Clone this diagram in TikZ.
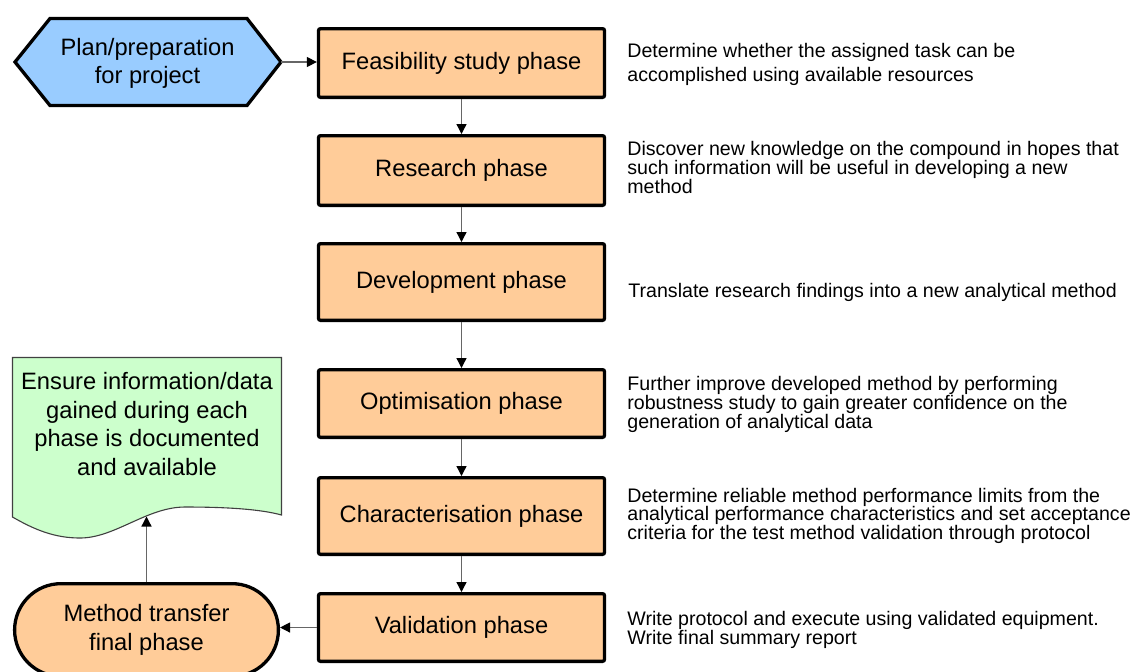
\documentclass[tikz,border=0pt]{standalone}
\usepackage{fontspec}
\setmainfont{Liberation Sans}
\usetikzlibrary{arrows.meta,shapes.misc}
\definecolor{cPhase}{HTML}{FFCC99}
\definecolor{cPlan} {HTML}{99CCFF}
\definecolor{cDoc}  {HTML}{CCFFCC}
\definecolor{cLink} {HTML}{666666}
\newcommand{\boxfont}{\fontsize{11.85}{14.25}\selectfont}
\newcommand{\notefont}{\fontsize{9.8}{9.3}\selectfont}
\tikzset{
  thickline/.style={draw=black,line width=1.65pt},
  phase/.style  ={thickline,fill=cPhase,rounded corners=1pt,minimum width=143pt,
                  inner sep=0pt,font=\boxfont},
  term/.style   ={thickline,fill=cPhase,rounded rectangle,inner xsep=0pt,
                  minimum width=131.9pt,minimum height=46.35pt,align=center,font=\boxfont},
  planhex/.style={thickline,fill=cPlan},
  docu/.style   ={draw=black!75,line width=0.55pt,fill=cDoc},
  txt/.style    ={inner sep=0pt,align=center,font=\boxfont,anchor=base},
  note/.style   ={inner sep=0pt,align=left,font=\notefont,anchor=base west},
  link/.style   ={-{Triangle[length=5pt,width=5pt,color=black]},draw=cLink,line width=0.65pt},
}

\begin{document}
\begin{tikzpicture}[x=0.5pt,y=-0.5pt]
\useasboundingbox (0,0) rectangle (1143,671);

% ---- phases --------------------------------------------------------------
\node[phase,minimum height=34.35pt] (feas)   at (461.5,63)    {Feasibility study phase};
\node[phase,minimum height=34.85pt] (resrch) at (461.5,170.5) {Research phase};
\node[phase,minimum height=38.35pt] (devel)  at (461.5,282)   {Development phase};
\node[phase,minimum height=33.85pt] (optim)  at (461.5,403.5) {Optimisation phase};
\node[phase,minimum height=38.35pt] (charac) at (461.5,516)   {Characterisation phase};
\node[phase,minimum height=33.85pt] (valid)  at (461.5,627.5) {Validation phase};

% ---- what each phase does (anchored on the last line's baseline) ----------
\node[note,font=\fontsize{9.8}{12}\selectfont] (nfeas) at (627,81)
  {Determine whether the assigned task can be\\accomplished using available resources};
\node[note] (nresrch) at (627,193)
  {Discover new knowledge on the compound in hopes that\\such information will be
   useful in developing a new\\method};
\node[note] (ndevel) at (628,297)
  {Translate research findings into a new analytical method};
\node[note] (noptim) at (627,428)
  {Further improve developed method by performing\\robustness study to gain greater
   confidence on the\\generation of analytical data};
\node[note] (ncharac) at (627,539.5)
  {Determine reliable method performance limits from the\\analytical performance
   characteristics and set acceptance\\criteria for the test method validation
   through protocol};
\node[note,font=\fontsize{9.8}{9.7}\selectfont] (nvalid) at (627,644.5)
  {Write protocol and execute using validated equipment.\\Write final summary report};

% ---- start: plan hexagon -------------------------------------------------
\coordinate (planR) at (281,62);
\draw[planhex] (15,62) -- (50,18.5) -- (247,18.5) -- (planR)
  -- (247,105.5) -- (50,105.5) -- cycle;
\node[txt] (plan) at (147.5,83.5) {Plan/preparation\\for project};

% ---- record keeping document ---------------------------------------------
\coordinate (docfoot) at (146.5,516.5);
\draw[docu] (12.5,357.5) -- (281.5,357.5) -- (281.5,515)
  .. controls (260,509) and (225,507) .. (185,507)
  .. controls (147,507) and (115,538) .. (80,538)
  .. controls (55,538) and (35,530) .. (12.5,517) -- cycle;
\node[txt] (doc) at (147,475)
  {Ensure information/data\\gained during each\\phase is documented\\and available};

% ---- end: transfer -------------------------------------------------------
\node[term] (transfer) at (146.5,630) {Method transfer\\final phase};

% ---- flow ----------------------------------------------------------------
\draw[link] (planR) -- (planR -| feas.west);
\foreach \a/\b in {feas/resrch,resrch/devel,devel/optim,optim/charac,charac/valid}
  \draw[link] (\a) -- (\b);
\draw[link] (valid.west) -- (valid.west -| transfer.east);
\draw[link] (transfer.north) -- (docfoot);
\end{tikzpicture}
\end{document}
